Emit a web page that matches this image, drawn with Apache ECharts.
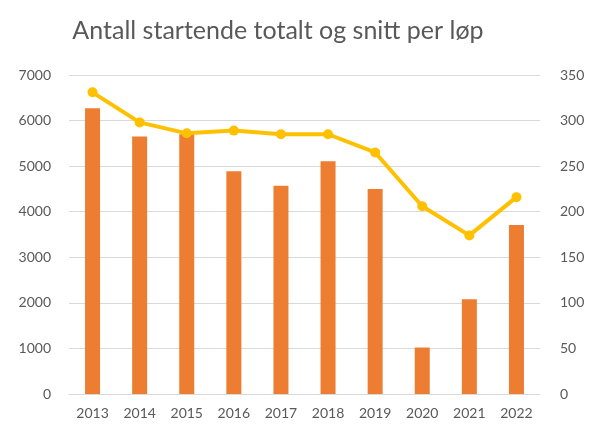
<!DOCTYPE html>
<html>
<head>
<meta charset="utf-8">
<script src="https://cdn.jsdelivr.net/npm/echarts@6/dist/echarts.min.js"></script>
<style>
html,body{margin:0;padding:0;background:#fff;}
#chart{width:594px;height:425px;}
</style>
</head>
<body>
<div id="chart"></div>
<script>
// Antall startende totalt og snitt per løp
var years = ['2013', '2014', '2015', '2016', '2017', '2018', '2019', '2020', '2021', '2022'];
var totalt = [6270, 5650, 5700, 4890, 4570, 5110, 4500, 1020, 2080, 3710];
var snitt = [331, 298, 286, 289, 285, 285, 265, 206, 174, 216];

var myChart = echarts.init(document.getElementById('chart'));
var font = 'Lato, "Open Sans", sans-serif';

var option = {
    backgroundColor: '#fff',
    animation: false,
    title: {
        text: 'Antall startende totalt og snitt per løp',
        left: 273,
        top: 13,
        textAlign: 'center',
        textStyle: { color: '#595959', fontSize: 25, fontWeight: 'normal', fontFamily: font }
    },
    grid: { left: 69, right: 54, top: 75, bottom: 31 },
    xAxis: {
        type: 'category',
        data: years,
        axisTick: { show: false },
        axisLine: { lineStyle: { color: '#d9d9d9' } },
        axisLabel: { color: '#595959', fontSize: 14, fontFamily: font, margin: 12 }
    },
    yAxis: [
        {
            type: 'value',
            min: 0, max: 7000, interval: 1000,
            axisLabel: {
                color: '#595959', fontSize: 14, fontFamily: font, margin: 18,
                formatter: function (v) { return String(v); }
            },
            splitLine: { lineStyle: { color: '#d9d9d9' } },
            axisLine: { show: false }, axisTick: { show: false }
        },
        {
            type: 'value',
            min: 0, max: 350, interval: 50,
            axisLabel: { color: '#595959', fontSize: 14, fontFamily: font, margin: 20 },
            splitLine: { show: false },
            axisLine: { show: false }, axisTick: { show: false }
        }
    ],
    series: [
        {
            name: 'Totalt',
            type: 'bar',
            data: totalt,
            barWidth: 15,
            itemStyle: { color: '#ED7D31' }
        },
        {
            name: 'Snitt per løp',
            type: 'line',
            yAxisIndex: 1,
            data: snitt,
            symbol: 'circle',
            symbolSize: 10,
            lineStyle: { color: '#FFC000', width: 4 },
            itemStyle: { color: '#FFC000' }
        }
    ]
};
myChart.setOption(option);
</script>
</body>
</html>
